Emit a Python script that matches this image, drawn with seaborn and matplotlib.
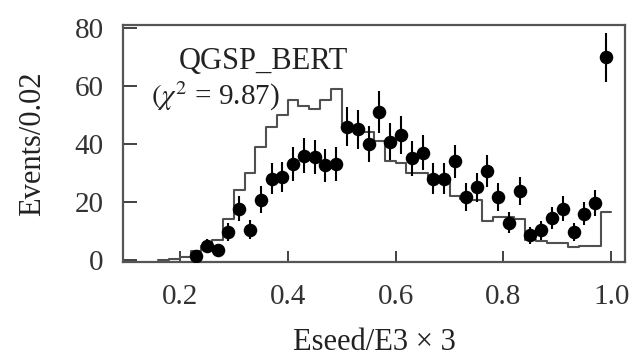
import numpy as np
import pandas as pd
import matplotlib
matplotlib.use("Agg")
import matplotlib.pyplot as plt
import seaborn as sns

# ---- data ----
data_x = [0.23, 0.25, 0.27, 0.29, 0.31, 0.33, 0.35, 0.37, 0.39, 0.41,
          0.43, 0.45, 0.47, 0.49, 0.51, 0.53, 0.55, 0.57, 0.59, 0.61,
          0.63, 0.65, 0.67, 0.69, 0.71, 0.73, 0.75, 0.77, 0.79, 0.81,
          0.83, 0.85, 0.87, 0.89, 0.91, 0.93, 0.95, 0.97, 0.99]
data_y = [1.3, 5.0, 3.5, 9.7, 17.7, 10.5, 20.8, 28.0, 28.6, 33.2,
          36.0, 35.5, 32.7, 33.2, 46.0, 45.0, 40.0, 51.0, 40.7, 43.0,
          35.0, 37.0, 28.0, 28.0, 34.0, 21.7, 25.0, 30.7, 21.7, 12.8,
          23.8, 8.5, 10.2, 14.6, 17.7, 9.7, 16.0, 19.7, 69.8]
data_err = [1.1, 2.2, 1.9, 3.1, 4.2, 3.2, 4.6, 5.3, 5.3, 5.8,
            6.0, 6.0, 5.7, 5.8, 6.8, 6.7, 6.3, 7.1, 6.4, 6.6,
            5.9, 6.1, 5.3, 5.3, 5.8, 4.7, 5.0, 5.5, 4.7, 3.6,
            4.9, 2.9, 3.2, 3.8, 4.2, 3.1, 4.0, 4.4, 8.4]

mc_edges = [0.16, 0.18, 0.20, 0.22, 0.24, 0.26, 0.28, 0.30, 0.32, 0.34,
            0.36, 0.38, 0.40, 0.42, 0.44, 0.46, 0.48, 0.50, 0.52, 0.54,
            0.56, 0.58, 0.60, 0.62, 0.64, 0.66, 0.68, 0.70, 0.72, 0.74,
            0.76, 0.78, 0.80, 0.82, 0.84, 0.86, 0.88, 0.90, 0.92, 0.94,
            0.96, 0.98, 1.00]
mc_counts = [0.0, 0.5, 1.0, 3.0, 5.0, 7.0, 14.0, 24.0, 30.0, 39.0,
             46.0, 50.0, 55.0, 53.0, 52.0, 55.0, 59.0, 46.0, 45.0, 44.0,
             41.0, 34.0, 33.5, 30.0, 30.0, 28.0, 27.0, 22.0, 21.0, 20.6,
             13.5, 15.0, 15.0, 14.0, 7.0, 6.5, 6.0, 6.0, 4.5, 4.7,
             4.7, 16.5]

x_ticks = [0.2, 0.4, 0.6, 0.8, 1.0]
x_ticklabels = ["0.2", "0.4", "0.6", "0.8", "1.0"]
y_ticks = [0, 20, 40, 60, 80]
y_ticklabels = ["0", "20", "40", "60", "80"]

model_label = "QGSP_BERT"
chi2_label = r"$(\chi^2$ = 9.87)"
x_label = "Eseed/E3 × 3"
y_label = "Events/0.02"

# ---- style ----
sns.set_theme(style="white")
plt.rcParams["font.family"] = ["Liberation Serif", "DejaVu Serif"]
plt.rcParams["mathtext.fontset"] = "stix"

fig = plt.figure(figsize=(6.35, 3.61), dpi=100)
ax = fig.add_axes([0.194, 0.274, 0.790, 0.657])

mc_centers = [(a + b) / 2 for a, b in zip(mc_edges[:-1], mc_edges[1:])]
mc_df = pd.DataFrame({"x": mc_centers, "w": mc_counts})
sns.histplot(data=mc_df, x="x", weights="w", bins=mc_edges, element="step",
             fill=False, color="#505050", linewidth=1.5, ax=ax)

data_df = pd.DataFrame({"x": data_x, "y": data_y, "e": data_err})
ax.errorbar(data_df["x"], data_df["y"], yerr=data_df["e"], fmt="none",
            ecolor="black", elinewidth=1.5, capsize=0, zorder=3)
sns.scatterplot(data=data_df, x="x", y="y", color="black", s=95,
                edgecolor="black", linewidth=0, ax=ax, zorder=4)

ax.set_xlim(0.095, 1.025)
ax.set_ylim(-0.7, 81)
ax.set_xticks(x_ticks)
ax.set_xticklabels(x_ticklabels)
ax.set_yticks(y_ticks)
ax.set_yticklabels(y_ticklabels)
ax.tick_params(axis="x", direction="in", length=8, width=1.3, pad=16,
               labelsize=21, colors="#333333", top=False, bottom=True)
ax.tick_params(axis="y", direction="in", length=10, width=1.3, pad=14,
               labelsize=21, colors="#333333", left=True, right=False)
for sp in ax.spines.values():
    sp.set_color("#555555")
    sp.set_linewidth(1.6)

ax.set_xlabel(x_label, fontsize=22, color="#222222", labelpad=13)
ax.set_ylabel(y_label, fontsize=22, color="#222222", labelpad=20)

ax.text(0.11, 0.845, model_label, transform=ax.transAxes, fontsize=22,
        color="#222222", ha="left", va="center")
ax.text(0.055, 0.70, chi2_label, transform=ax.transAxes, fontsize=21,
        color="#222222", ha="left", va="center")

fig.savefig("out.png", dpi=100)
